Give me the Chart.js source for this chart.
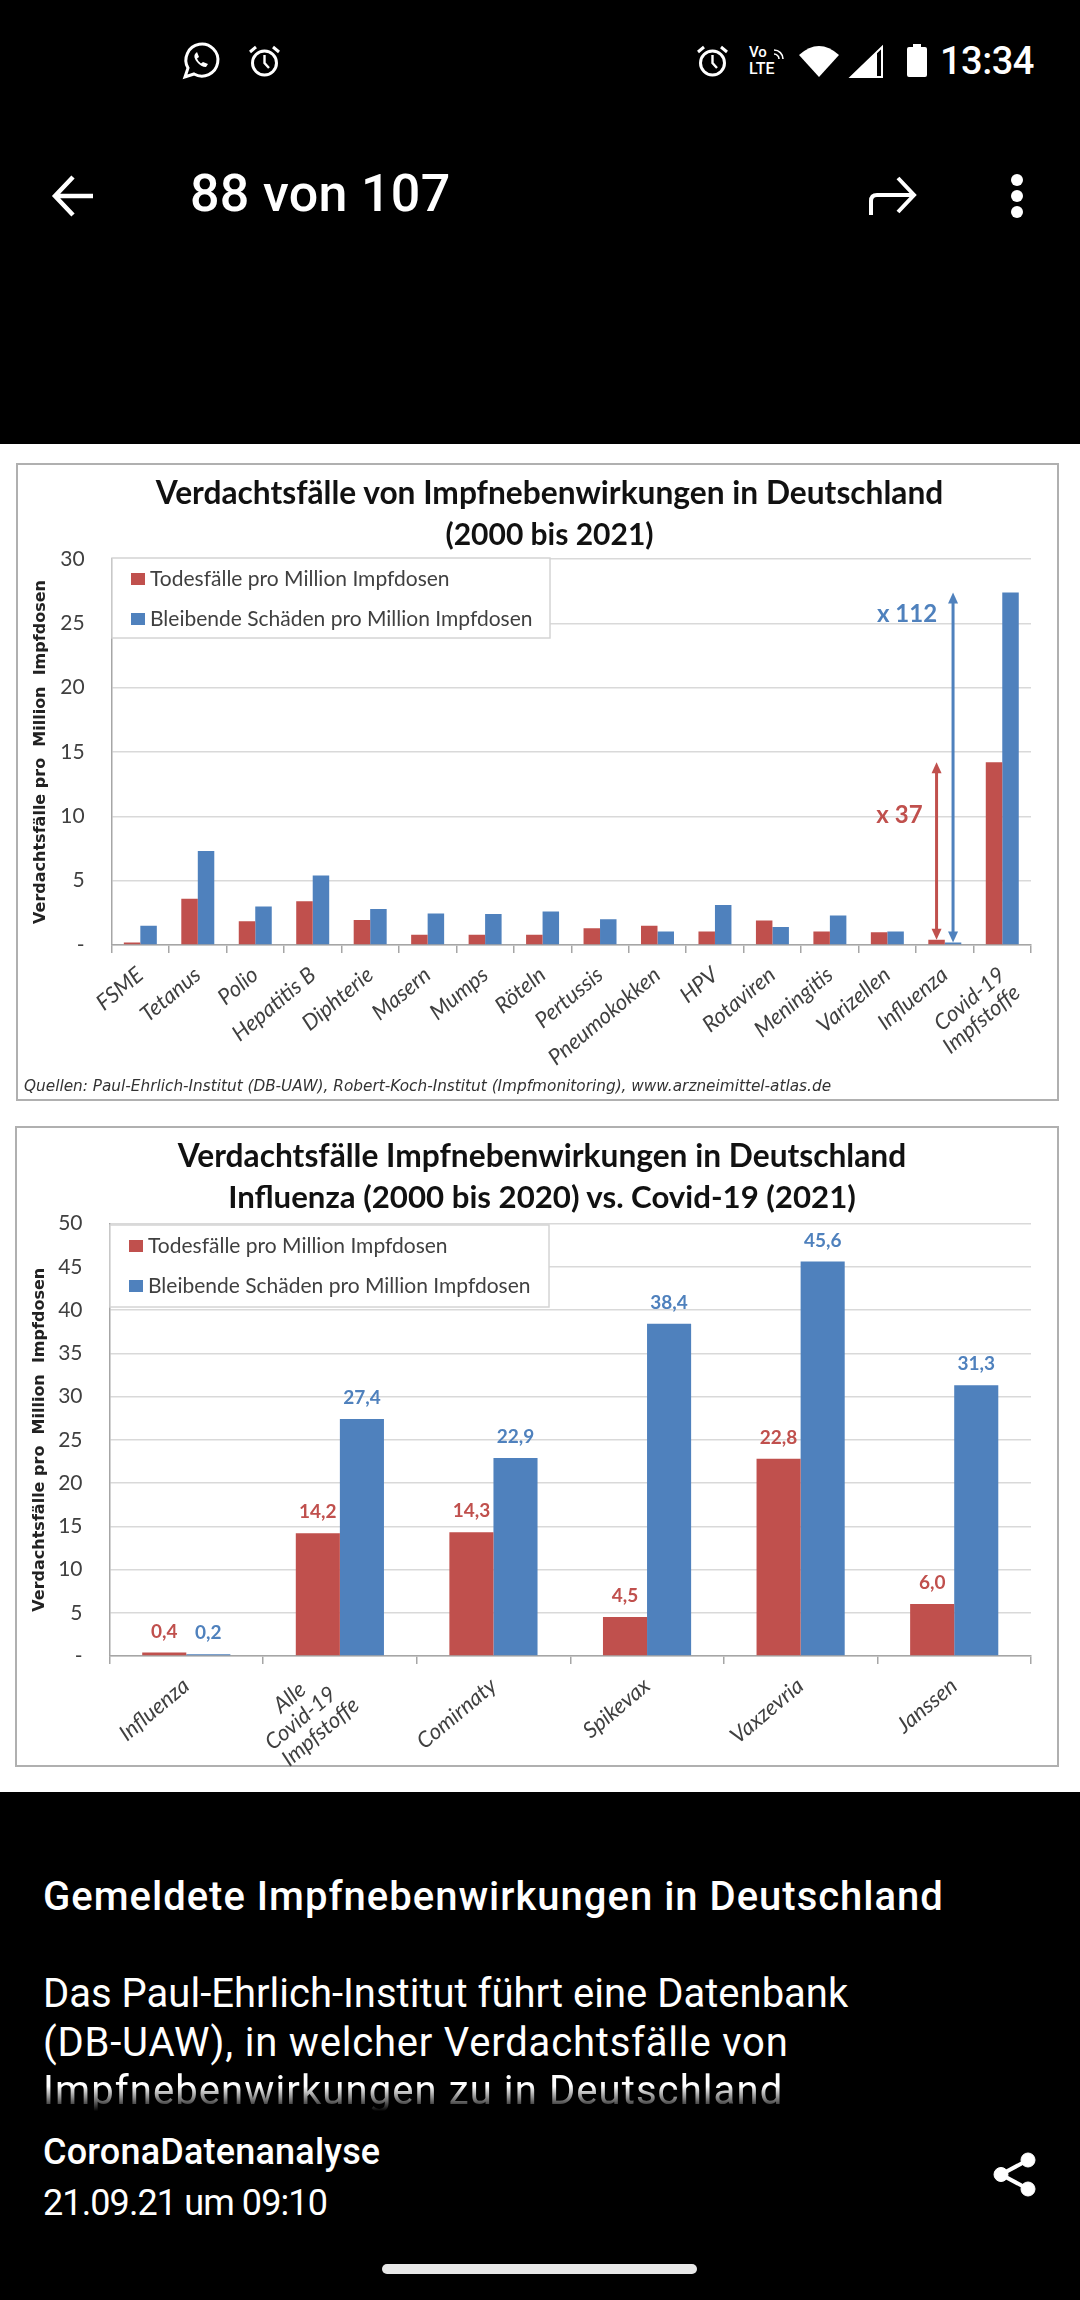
<!DOCTYPE html>
<html lang="de">
<head>
<meta charset="utf-8">
<title>Impfnebenwirkungen</title>
<script src="https://cdn.jsdelivr.net/npm/chart.js@4/dist/chart.umd.min.js"></script>
<style>
  html, body { margin: 0; padding: 0; background: #000; }
  body { position: relative; width: 1080px; height: 2300px; overflow: hidden; font-family: Roboto, sans-serif; color: #fff; }
  .abs { position: absolute; white-space: nowrap; }
  #sheet { position: absolute; left: 0; top: 444px; width: 1080px; height: 1348px; background: #fff; }
  .card { position: absolute; box-sizing: border-box; background: #fff; border: 2px solid #b0b0b0; }
  .card canvas { position: absolute; left: -2px; top: -2px; filter: blur(0.6px); }
  .ctitle { position: absolute; left: 0; width: 100%; text-align: center; font: bold 31.7px/41px Lato, sans-serif; color: #111; white-space: pre; filter: blur(0.4px); }
  #source { position: absolute; left: 6px; top: 612px; font: italic 15.3px "DejaVu Sans", sans-serif; color: #333; white-space: nowrap; filter: blur(0.4px); }
  svg { position: absolute; overflow: visible; }
  #fade { -webkit-mask-image: linear-gradient(#fff 40%, transparent 92%); mask-image: linear-gradient(#fff 40%, transparent 92%); }
</style>
</head>
<body>

<!-- status bar -->
<svg style="left:183px;top:43px" width="36" height="36" viewBox="0 0 36 36" fill="none" stroke="#fff" stroke-width="3">
  <path d="M2 34 L5 25 A16 16 0 1 1 11 31 Z"/>
  <path d="M12 11 q-2 3 2 8 t9 5 l2 -3 -5 -2 -2 1.5 q-3 -2 -4 -5 l2 -1.5 -2 -5 z" fill="#fff" stroke="none"/>
</svg>
<svg style="left:248px;top:45px" width="33" height="32" viewBox="0 0 33 32" fill="none" stroke="#fff" stroke-width="3">
  <circle cx="16.5" cy="18" r="12"/><path d="M16.5 10 V18 L21 23" stroke-width="2.4"/><path d="M2 7 L8 2 M31 7 L25 2"/>
</svg>
<svg style="left:696px;top:45px" width="33" height="32" viewBox="0 0 33 32" fill="none" stroke="#fff" stroke-width="3">
  <circle cx="16.5" cy="18" r="12"/><path d="M16.5 10 V18 L21 23" stroke-width="2.4"/><path d="M2 7 L8 2 M31 7 L25 2"/>
</svg>
<div class="abs" style="left:749px;top:45px;font:500 15px/15px Roboto">Vo</div>
<div class="abs" style="left:749px;top:61px;font:500 16px/16px Roboto">LTE</div>
<svg style="left:772px;top:47px" width="13" height="13" viewBox="0 0 13 13" fill="none" stroke="#fff" stroke-width="1.6"><path d="M2 3 A9 9 0 0 1 11 12 M2 7 A5 5 0 0 1 7 12"/></svg>
<svg style="left:799px;top:45px" width="40" height="32" viewBox="0 0 40 32"><path d="M20 32 L0 10 Q20 -8 40 10 Z" fill="#fff"/></svg>
<svg style="left:850px;top:46px" width="33" height="32" viewBox="0 0 33 32" fill="none" stroke="#fff" stroke-width="2"><path d="M1 31 H32 V1 Z"/><path d="M1 31 H27 V6 Z" fill="#fff" stroke="none"/></svg>
<svg style="left:907px;top:44px" width="20" height="33" viewBox="0 0 20 33"><path d="M6 0 H14 V3 H18 Q20 3 20 5 V31 Q20 33 18 33 H2 Q0 33 0 31 V5 Q0 3 2 3 H6 Z" fill="#fff"/></svg>
<div class="abs" style="left:940px;top:39px;font:500 38px/44px Roboto;letter-spacing:-0.5px">13:34</div>

<!-- toolbar -->
<svg style="left:52px;top:176px" width="42" height="40" viewBox="0 0 42 40" fill="none" stroke="#fff" stroke-width="4.5"><path d="M41 20 H3 M21 1 L3 20 L21 39"/></svg>
<div class="abs" style="left:190px;top:164px;font:500 52px/60px Roboto;letter-spacing:0.3px">88 von 107</div>
<svg style="left:869px;top:177px" width="47" height="38" viewBox="0 0 47 38" fill="none" stroke="#fff" stroke-width="4"><path d="M2 38 V24 Q2 18 8 18 H44 M29 1 L45 18 L29 35"/></svg>
<svg style="left:1010px;top:174px" width="14" height="44" viewBox="0 0 14 44" fill="#fff"><circle cx="7" cy="6" r="6"/><circle cx="7" cy="22" r="6"/><circle cx="7" cy="38" r="6"/></svg>

<div id="sheet"></div>

<div class="card" style="left:16px;top:463px;width:1043px;height:638px">
  <canvas id="chartAll" width="1043" height="638"></canvas>
  <div class="ctitle" style="top:7px;transform:translateX(12px)">Verdachtsfälle von Impfnebenwirkungen in Deutschland
<span style="font-size:30px">(2000 bis 2021)</span></div>
  <div id="source">Quellen: Paul-Ehrlich-Institut (DB-UAW), Robert-Koch-Institut (Impfmonitoring), www.arzneimittel-atlas.de</div>
</div>

<div class="card" style="left:15px;top:1126px;width:1044px;height:641px">
  <canvas id="chartCovid" width="1044" height="641"></canvas>
  <div class="ctitle" style="top:7px;transform:translateX(5px)">Verdachtsfälle Impfnebenwirkungen in Deutschland
<span style="font-size:31.2px">Influenza (2000 bis 2020) vs. Covid-19 (2021)</span></div>
</div>

<!-- caption -->
<div class="abs" style="left:43px;top:1873px;font:500 40px/48px Roboto;letter-spacing:1px">Gemeldete Impfnebenwirkungen in Deutschland</div>
<div class="abs" style="left:43px;top:1970px;font:400 40px/48.5px Roboto">Das Paul-Ehrlich-Institut führt eine Datenbank</div>
<div class="abs" style="left:43px;top:2018.5px;font:400 40px/48.5px Roboto;letter-spacing:0.8px">(DB-UAW), in welcher Verdachtsfälle von</div>
<div class="abs" id="fade" style="left:43px;top:2067px;font:400 40px/48.5px Roboto;height:48px;overflow:hidden;letter-spacing:1.1px">Impfnebenwirkungen zu in Deutschland</div>
<div class="abs" style="left:43px;top:2130px;font:500 36px/44px Roboto;letter-spacing:0.2px">CoronaDatenanalyse</div>
<div class="abs" style="left:43px;top:2181px;font:400 36px/44px Roboto;letter-spacing:-0.9px">21.09.21 um 09:10</div>
<svg style="left:993px;top:2152px" width="43" height="45" viewBox="0 0 43 45" fill="#fff" stroke="#fff"><circle cx="35" cy="8" r="7"/><circle cx="8" cy="22.5" r="7"/><circle cx="35" cy="37" r="7"/><path d="M35 8 L8 22.5 L35 37" fill="none" stroke-width="4"/></svg>
<div class="abs" style="left:382px;top:2264px;width:315px;height:10px;border-radius:5px;background:#e8e8e8"></div>

<script>
const categoriesAll = ['FSME', 'Tetanus', 'Polio', 'Hepatitis B', 'Diphterie', 'Masern', 'Mumps', 'Röteln', 'Pertussis', 'Pneumokokken', 'HPV', 'Rotaviren', 'Meningitis', 'Varizellen', 'Influenza', ['Covid-19', 'Impfstoffe']];
const deathsAll = [0.2, 3.6, 1.85, 3.4, 1.95, 0.8, 0.8, 0.8, 1.3, 1.5, 1.05, 1.9, 1.05, 1.0, 0.4, 14.2];
const damageAll = [1.5, 7.3, 3.0, 5.4, 2.8, 2.45, 2.4, 2.6, 2.0, 1.05, 3.1, 1.4, 2.3, 1.05, 0.2, 27.4];

// trailing blanks centre the shorter lines, the labels are right aligned when rotated
const categoriesCovid = ['Influenza', ['Alle      ', 'Covid-19  ', 'Impfstoffe'], 'Comirnaty', 'Spikevax', 'Vaxzevria', 'Janssen'];
const deathsCovid = [0.4, 14.2, 14.3, 4.5, 22.8, 6.0];
const damageCovid = [0.2, 27.4, 22.9, 38.4, 45.6, 31.3];

const seriesNames = ['Todesfälle pro Million Impfdosen', 'Bleibende Schäden pro Million Impfdosen'];
const yAxisLabel = 'Verdachtsfälle pro  Million  Impfdosen';

const RED = '#c0504d';
const BLUE = '#4f81bd';
const seriesColors = [RED, BLUE];

// legend sits inside the plot, the built-in one can't be placed there
const boxLegend = {
    id: 'boxLegend',
    afterDatasetsDraw(chart, args, o) {
        const ctx = chart.ctx;
        ctx.save();
        ctx.fillStyle = '#fff';
        ctx.strokeStyle = '#d4d4d4';
        ctx.lineWidth = 1.5;
        ctx.fillRect(o.x, o.y, o.w, o.h);
        ctx.strokeRect(o.x, o.y, o.w, o.h);
        ctx.font = '21px Lato, sans-serif';
        ctx.textBaseline = 'middle';
        seriesNames.forEach((name, i) => {
            const cy = o.y + 21 + i * 40;
            ctx.fillStyle = seriesColors[i];
            ctx.fillRect(o.x + 19, cy - 6, 14, 12);
            ctx.fillStyle = '#404040';
            ctx.fillText(name, o.x + 38, cy);
        });
        ctx.restore();
    }
};

// value labels above the bars, comma decimals
const barValues = {
    id: 'barValues',
    afterDatasetsDraw(chart, args, o) {
        if (!o.show) return;
        const ctx = chart.ctx;
        ctx.save();
        ctx.font = 'bold 19px Lato, sans-serif';
        ctx.textAlign = 'center';
        ctx.textBaseline = 'middle';
        chart.data.datasets.forEach((ds, d) => {
            ctx.fillStyle = ds.backgroundColor;
            chart.getDatasetMeta(d).data.forEach((bar, i) => {
                ctx.fillText(ds.data[i].toFixed(1).replace('.', ','), bar.x, bar.y - 21);
            });
        });
        ctx.restore();
    }
};

// double arrows over the Influenza bars with the factor next to them
const factorArrows = {
    id: 'factorArrows',
    afterDatasetsDraw(chart, args, o) {
        if (!o.items) return;
        const ctx = chart.ctx;
        const yScale = chart.scales.y;
        o.items.forEach(item => {
            const x = chart.getDatasetMeta(item.dataset).data[o.index].x;
            const top = yScale.getPixelForValue(item.to);
            const bottom = yScale.getPixelForValue(item.from);
            ctx.save();
            ctx.strokeStyle = ctx.fillStyle = seriesColors[item.dataset];
            ctx.lineWidth = 3;
            ctx.beginPath();
            ctx.moveTo(x, top + 6);
            ctx.lineTo(x, bottom - 6);
            ctx.stroke();
            [[top, 1], [bottom, -1]].forEach(([y, dir]) => {
                ctx.beginPath();
                ctx.moveTo(x, y);
                ctx.lineTo(x - 5, y + dir * 11);
                ctx.lineTo(x + 5, y + dir * 11);
                ctx.closePath();
                ctx.fill();
            });
            ctx.font = 'bold 24px Lato, sans-serif';
            ctx.textAlign = 'right';
            ctx.textBaseline = 'middle';
            ctx.fillText(item.text, x + item.dx, yScale.getPixelForValue(item.labelAt));
            ctx.restore();
        });
    }
};

// three line tick label sits centred on its tick, chart.js starts it at the tick
const centerLongLabels = {
    id: 'centerLongLabels',
    beforeDraw(chart) {
        chart.scales.x.getLabelItems().forEach(item => {
            if (Array.isArray(item.label) && item.label.length > 2 && !item.moved) {
                item.textOffset -= 21;
                item.moved = true;
            }
        });
    }
};

function makeChart(id, categories, deaths, damage, cfg) {
    return new Chart(document.getElementById(id), {
        type: 'bar',
        data: {
            labels: categories,
            datasets: [
                { label: seriesNames[0], data: deaths, backgroundColor: RED },
                { label: seriesNames[1], data: damage, backgroundColor: BLUE }
            ]
        },
        plugins: [boxLegend, barValues, factorArrows, centerLongLabels],
        options: {
            responsive: false,
            animation: false,
            devicePixelRatio: 1,
            layout: { padding: { top: cfg.top, right: 28, left: 0, bottom: 0 } },
            datasets: { bar: { barPercentage: 1, categoryPercentage: 0.574 } },
            plugins: {
                legend: { display: false },
                title: { display: false },
                tooltip: { enabled: false },
                boxLegend: cfg.legend,
                barValues: { show: cfg.showValues },
                factorArrows: cfg.arrows || {}
            },
            scales: {
                x: {
                    border: { color: '#a6a6a6', width: 1.5 },
                    grid: { drawOnChartArea: false, tickLength: 8, color: '#a6a6a6', lineWidth: 1.5, offset: true },
                    ticks: {
                        autoSkip: false, minRotation: 40, maxRotation: 40, padding: cfg.tickPad,
                        color: '#404040', font: { family: 'Lato, sans-serif', style: 'italic', size: 22, lineHeight: 1.05 }
                    },
                    afterFit(scale) { scale.height = cfg.bottom; }
                },
                y: {
                    min: 0, max: cfg.yMax,
                    border: { color: '#a6a6a6', width: 1.5 },
                    grid: { color: '#d9d9d9', lineWidth: 1.5, drawTicks: false },
                    ticks: {
                        stepSize: 5, padding: 27, color: '#404040',
                        font: { family: 'Lato, sans-serif', size: 21 },
                        callback: v => (v === 0 ? '-' : v)
                    },
                    title: {
                        display: true, text: yAxisLabel, color: '#222',
                        font: { family: '"DejaVu Sans", sans-serif', weight: 'bold', size: 16 },
                        padding: { top: 15, bottom: 0 }
                    },
                    afterFit(scale) { scale.width = cfg.left; }
                }
            }
        }
    });
}

makeChart('chartAll', categoriesAll, deathsAll, damageAll, {
    top: 96, left: 95.6, bottom: 156, yMax: 30, tickPad: 10, showValues: false,
    legend: { x: 96, y: 95, w: 438, h: 80 },
    arrows: {
        index: 14,
        items: [
            { dataset: 0, from: 0.4, to: 14.2, text: 'x 37', dx: -14, labelAt: 10.1 },
            { dataset: 1, from: 0.2, to: 27.4, text: 'x 112', dx: -16, labelAt: 25.7 }
        ]
    }
});

makeChart('chartCovid', categoriesCovid, deathsCovid, damageCovid, {
    top: 97.5, left: 94.5, bottom: 111, yMax: 50, tickPad: 10, showValues: true,
    legend: { x: 95, y: 99, w: 439, h: 82 }
});
</script>
</body>
</html>
